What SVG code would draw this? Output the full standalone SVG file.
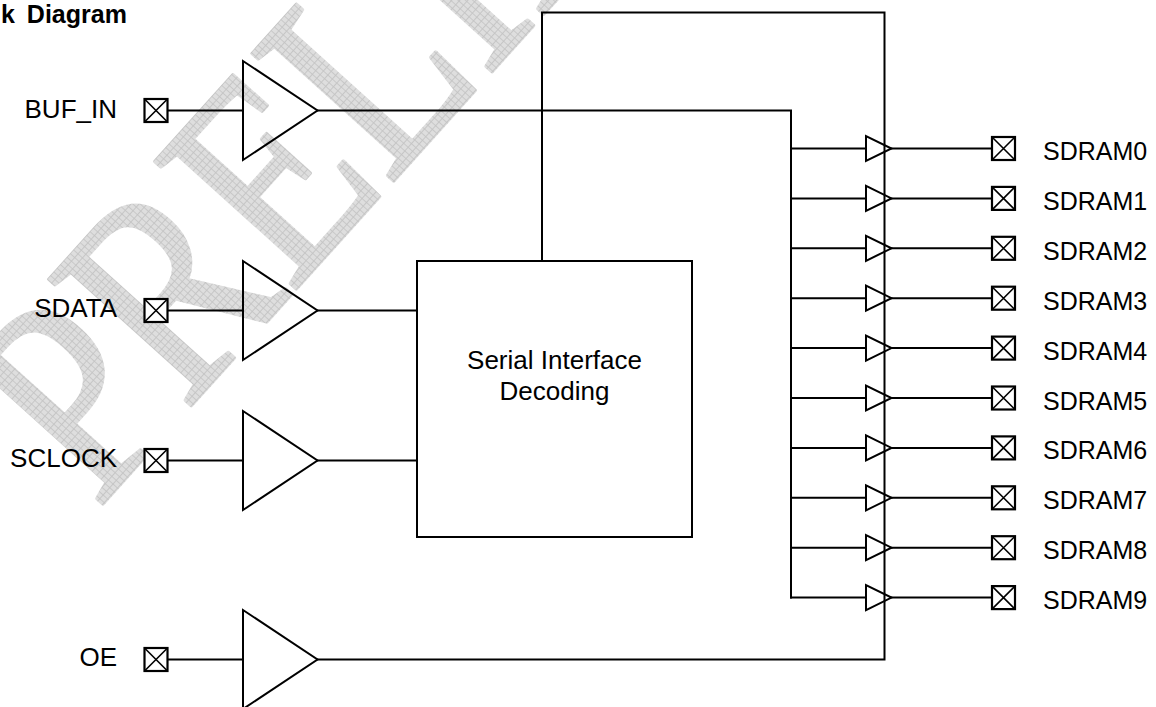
<svg xmlns="http://www.w3.org/2000/svg" xmlns:xlink="http://www.w3.org/1999/xlink" width="1156" height="707" viewBox="0 0 1156 707">
<style>
.ln{fill:none;stroke:#000;stroke-width:2;stroke-linecap:square}
.tri{fill:none;stroke:#000;stroke-width:2;stroke-linejoin:miter}
.pad{fill:#fff;stroke:#000;stroke-width:2.2}
.lbl{font-family:"Liberation Sans",Arial,sans-serif;font-size:26px;fill:#000}
.rl{font-family:"Liberation Sans",Arial,sans-serif;font-size:25px;fill:#000}
.ttl{font-family:"Liberation Sans",Arial,sans-serif;font-size:25px;font-weight:bold;fill:#000}
.wm{font-family:"Liberation Serif","Times New Roman",serif;font-size:290px;fill:url(#hatch);stroke:url(#hatch);stroke-width:4;stroke-linejoin:round}
</style>
<defs>
<pattern id="hatch" patternUnits="userSpaceOnUse" width="6" height="6">
<rect width="6" height="6" fill="#dedede"/>
<path d="M0,0.5H6M0.5,0V6" stroke="#c4c4c4" stroke-width="1"/>
</pattern>
<g id="padShape"><rect class="pad" x="-11.5" y="-11.5" width="23" height="23"/><path d="M-11.5,-11.5L11.5,11.5M11.5,-11.5L-11.5,11.5" stroke="#000" stroke-width="1.6" fill="none"/></g>
</defs>
<rect width="1156" height="707" fill="#fff"/>
<g id="watermark">
<text class="wm" transform="translate(97,510) rotate(-48) scale(0.82,1)">PRELIMINARY</text>
</g>
<text class="ttl" x="1" y="23" word-spacing="5">k Diagram</text>

<g id="connectors">
<path class="ln" d="M168,110.5H243M317.5,110.5H791V597.6"/>
<path class="ln" d="M168,310.5H243M317.5,310.5H417"/>
<path class="ln" d="M168,460.5H243M317.5,460.5H417"/>
<path class="ln" d="M168,659.5H243M317.5,659.5H884.5V12.5H542V261"/>
<path class="ln" d="M791,148.5H866M891.5,148.5H991"/>
<path class="ln" d="M791,198.4H866M891.5,198.4H991"/>
<path class="ln" d="M791,248.3H866M891.5,248.3H991"/>
<path class="ln" d="M791,298.2H866M891.5,298.2H991"/>
<path class="ln" d="M791,348.1H866M891.5,348.1H991"/>
<path class="ln" d="M791,398H866M891.5,398H991"/>
<path class="ln" d="M791,447.9H866M891.5,447.9H991"/>
<path class="ln" d="M791,497.8H866M891.5,497.8H991"/>
<path class="ln" d="M791,547.7H866M891.5,547.7H991"/>
<path class="ln" d="M791,597.6H866M891.5,597.6H991"/>
</g>

<g id="buf_in">
<text class="lbl" x="117" y="117.5" text-anchor="end">BUF_IN</text>
<use xlink:href="#padShape" x="156" y="110.5"/>
<polygon class="tri" points="243,61 243,160 317.5,110.5"/>
</g>
<g id="sdata">
<text class="lbl" x="117" y="316.5" text-anchor="end">SDATA</text>
<use xlink:href="#padShape" x="156" y="310.5"/>
<polygon class="tri" points="243,261 243,360 317.5,310.5"/>
</g>
<g id="sclock">
<text class="lbl" x="117" y="466.5" text-anchor="end">SCLOCK</text>
<use xlink:href="#padShape" x="156" y="460.5"/>
<polygon class="tri" points="243,411 243,510 317.5,460.5"/>
</g>
<g id="oe">
<text class="lbl" x="117" y="666" text-anchor="end">OE</text>
<use xlink:href="#padShape" x="156" y="659.5"/>
<polygon class="tri" points="243,610 243,709 317.5,659.5"/>
</g>
<g id="serial_decoder">
<rect class="tri" x="417" y="261" width="275" height="276"/>
<text class="lbl" x="554.5" y="369" text-anchor="middle">Serial Interface</text>
<text class="lbl" x="554.5" y="400" text-anchor="middle">Decoding</text>
</g>

<g id="sdram0"><polygon class="tri" points="866,136 866,161 891.5,148.5"/><use xlink:href="#padShape" x="1003.5" y="148.5"/><text class="rl" x="1043" y="160">SDRAM0</text></g>
<g id="sdram1"><polygon class="tri" points="866,185.9 866,210.9 891.5,198.4"/><use xlink:href="#padShape" x="1003.5" y="198.4"/><text class="rl" x="1043" y="209.9">SDRAM1</text></g>
<g id="sdram2"><polygon class="tri" points="866,235.8 866,260.8 891.5,248.3"/><use xlink:href="#padShape" x="1003.5" y="248.3"/><text class="rl" x="1043" y="259.8">SDRAM2</text></g>
<g id="sdram3"><polygon class="tri" points="866,285.7 866,310.7 891.5,298.2"/><use xlink:href="#padShape" x="1003.5" y="298.2"/><text class="rl" x="1043" y="309.7">SDRAM3</text></g>
<g id="sdram4"><polygon class="tri" points="866,335.6 866,360.6 891.5,348.1"/><use xlink:href="#padShape" x="1003.5" y="348.1"/><text class="rl" x="1043" y="359.6">SDRAM4</text></g>
<g id="sdram5"><polygon class="tri" points="866,385.5 866,410.5 891.5,398"/><use xlink:href="#padShape" x="1003.5" y="398"/><text class="rl" x="1043" y="409.5">SDRAM5</text></g>
<g id="sdram6"><polygon class="tri" points="866,435.4 866,460.4 891.5,447.9"/><use xlink:href="#padShape" x="1003.5" y="447.9"/><text class="rl" x="1043" y="459.4">SDRAM6</text></g>
<g id="sdram7"><polygon class="tri" points="866,485.3 866,510.3 891.5,497.8"/><use xlink:href="#padShape" x="1003.5" y="497.8"/><text class="rl" x="1043" y="509.3">SDRAM7</text></g>
<g id="sdram8"><polygon class="tri" points="866,535.2 866,560.2 891.5,547.7"/><use xlink:href="#padShape" x="1003.5" y="547.7"/><text class="rl" x="1043" y="559.2">SDRAM8</text></g>
<g id="sdram9"><polygon class="tri" points="866,585.1 866,610.1 891.5,597.6"/><use xlink:href="#padShape" x="1003.5" y="597.6"/><text class="rl" x="1043" y="609.1">SDRAM9</text></g>
</svg>
